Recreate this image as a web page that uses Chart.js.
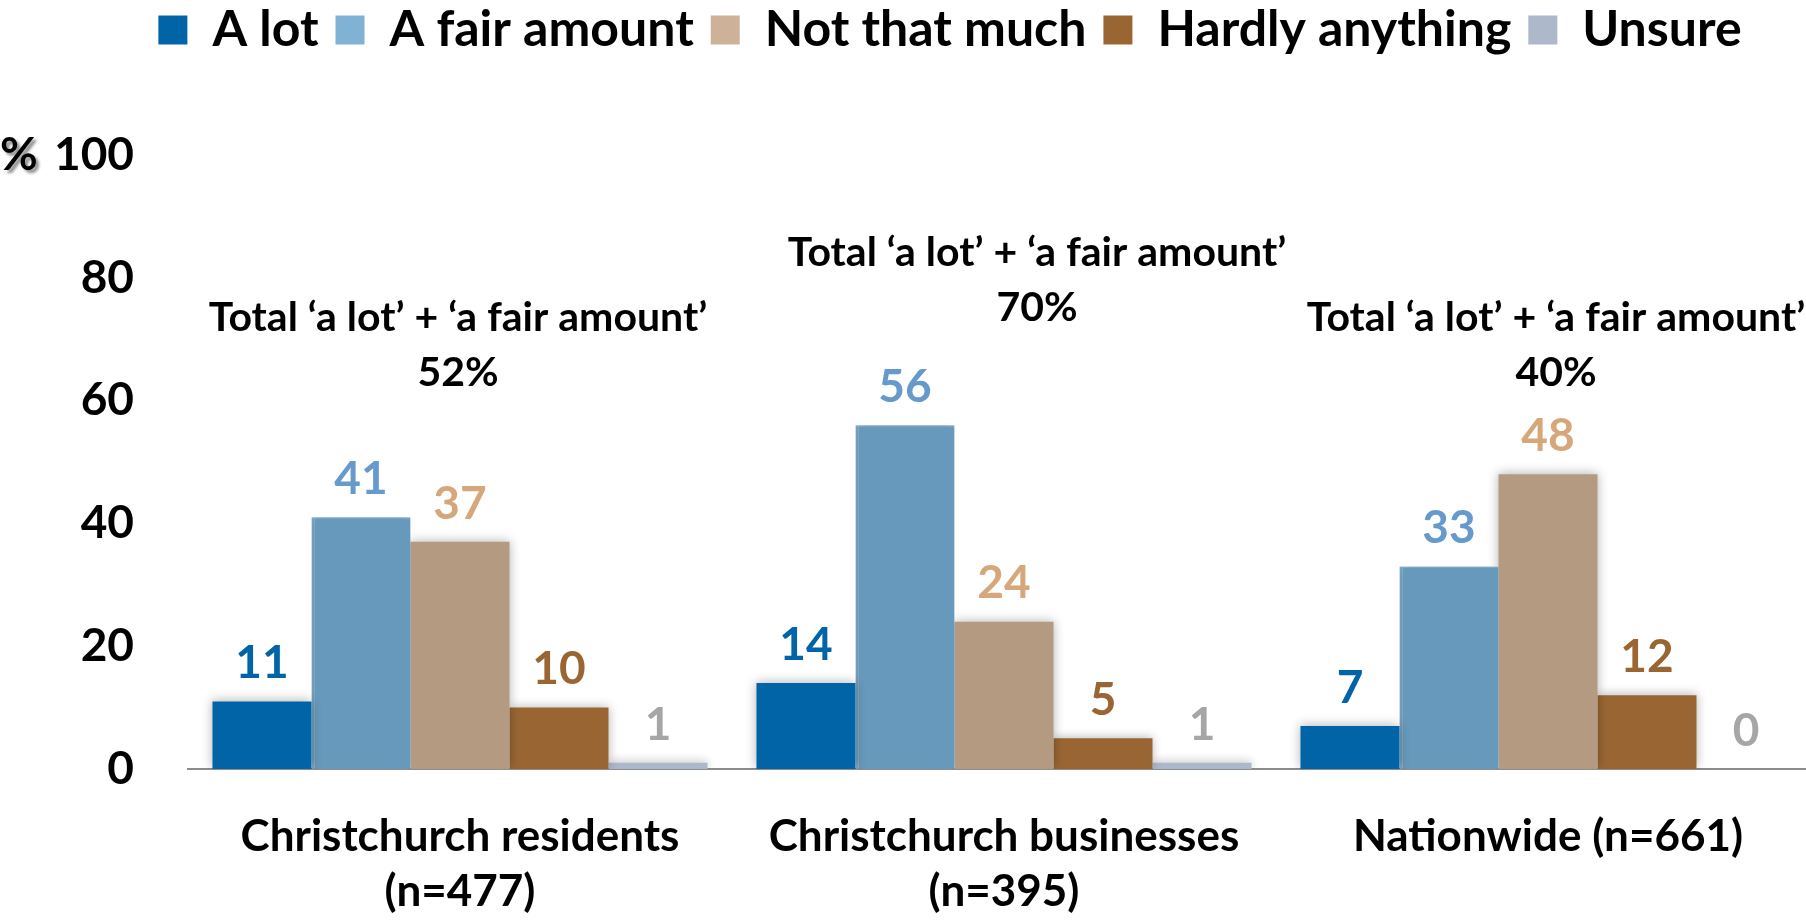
<!DOCTYPE html>
<html>
<head>
<meta charset="utf-8">
<script src="https://cdn.jsdelivr.net/npm/chart.js@4.4.1/dist/chart.umd.min.js"></script>
<style>
  html, body { margin: 0; padding: 0; background: #fff; }
  #wrap { width: 1806px; height: 921px; }
</style>
</head>
<body>
<div id="wrap"><canvas id="chart" width="1806" height="921"></canvas></div>
<script>
// data
const categories = [['Christchurch residents', '(n=477)'], ['Christchurch businesses', '(n=395)'], 'Nationwide (n=661)'];
const seriesNames = ['A lot', 'A fair amount', 'Not that much', 'Hardly anything', 'Unsure'];
const aLot = [11, 14, 7];
const fairAmount = [41, 56, 33];
const notThatMuch = [37, 24, 48];
const hardlyAnything = [10, 5, 12];
const unsure = [1, 1, 0];
const yTicks = [0, 20, 40, 60, 80, 100];
const totalText = 'Total \u2018a lot\u2019 + \u2018a fair amount\u2019';

// styles
const barColors = ['#0064A6', '#6699BB', '#B39A80', '#996633', '#ADB9CA'];
const legendColors = ['#0064A6', '#7FB2D4', '#CDB299', '#996633', '#ADB9CA'];
const valueColors = ['#0064A6', '#6699CC', '#D6A77A', '#996633', '#A6A6A6'];
const barEdges = [0, { left: 3, top: 1 }, 0, 0, 0];
const family = 'Lato, "Noto Sans", sans-serif';

Chart.defaults.font.family = family;
Chart.defaults.font.weight = 'bold';
Chart.defaults.color = '#000';

const series = [aLot, fairAmount, notThatMuch, hardlyAnything, unsure];

// room under the legend, nudge it right, and let the x axis run past the right edge
const layoutTweaks = {
  id: 'layoutTweaks',
  beforeLayout(chart, args, opts) {
    const legend = chart.legend;
    if (legend && !legend._spaced) {
      const fit = legend.fit;
      legend.fit = function () { fit.call(this); this.height += opts.legendGap; };
      legend._spaced = true;
    }
  },
  afterLayout(chart, args, opts) {
    chart.legend.left += opts.legendShift;
    chart.legend.right += opts.legendShift;
    const x = chart.scales.x;
    x.right += opts.xOverflow;
    x.width += opts.xOverflow;
    x.configure();
  }
};

const barShadow = {
  id: 'barShadow',
  beforeDatasetDraw(chart) {
    const ctx = chart.ctx;
    ctx.save();
    ctx.shadowColor = 'rgba(0,0,0,0.28)';
    ctx.shadowBlur = 10;
    ctx.shadowOffsetY = -1;
  },
  afterDatasetDraw(chart) {
    chart.ctx.restore();
  }
};

const valueLabels = {
  id: 'valueLabels',
  afterDatasetsDraw(chart, args, opts) {
    const ctx = chart.ctx;
    ctx.save();
    ctx.font = `bold ${opts.size}px ${family}`;
    ctx.textAlign = 'center';
    ctx.textBaseline = 'middle';
    chart.data.datasets.forEach((ds, di) => {
      chart.getDatasetMeta(di).data.forEach((bar, i) => {
        ctx.fillStyle = valueColors[di];
        ctx.fillText(ds.data[i], bar.x, bar.y - opts.offset);
      });
    });
    ctx.restore();
  }
};

const totalsNote = {
  id: 'totalsNote',
  afterDraw(chart, args, opts) {
    const {ctx, scales: {x, y}} = chart;
    ctx.save();
    ctx.font = `bold ${opts.size}px ${family}`;
    ctx.textAlign = 'center';
    ctx.textBaseline = 'middle';
    ctx.fillStyle = '#000';
    categories.forEach((c, i) => {
      const cx = x.getPixelForValue(i) + opts.dx[i];
      const cy = y.getPixelForValue(opts.at[i]);
      ctx.fillText(totalText, cx, cy);
      ctx.fillText((aLot[i] + fairAmount[i]) + '%', cx, cy + opts.lineGap);
    });
    // the % unit next to the top tick
    ctx.font = `bold ${opts.unitSize}px ${family}`;
    ctx.textAlign = 'left';
    ctx.shadowColor = 'rgba(0,0,0,0.45)';
    ctx.shadowBlur = 3;
    ctx.shadowOffsetX = 3;
    ctx.shadowOffsetY = 3;
    ctx.fillText('%', 0, y.getPixelForValue(yTicks[yTicks.length - 1]));
    ctx.restore();
  }
};

new Chart(document.getElementById('chart'), {
  type: 'bar',
  data: {
    labels: categories,
    datasets: seriesNames.map((name, i) => ({
      label: name,
      data: series[i],
      backgroundColor: barColors[i],
      borderColor: legendColors[i],
      borderWidth: barEdges[i],
      borderSkipped: 'start',
      categoryPercentage: 0.91,
      barPercentage: 1.0
    }))
  },
  options: {
    responsive: false,
    devicePixelRatio: 1,
    animation: false,
    layout: { padding: { top: -12, left: 0, right: 0, bottom: 0 } },
    scales: {
      x: {
        grid: { display: false, drawTicks: false },
        border: { display: true, color: '#8C8C8C', width: 2 },
        ticks: { font: { size: 44, weight: 'bold', lineHeight: 1.25 }, padding: 40, maxRotation: 0, color: '#000' },
        afterFit(s) { s.height = 152; }
      },
      y: {
        min: 0,
        max: 100,
        grid: { display: false, drawTicks: false },
        border: { display: false },
        ticks: { font: { size: 46, weight: 'bold' }, padding: 54, color: '#000' },
        afterBuildTicks(s) { s.ticks = yTicks.map(v => ({ value: v })); },
        afterFit(s) { s.width = 188; }
      }
    },
    plugins: {
      legend: {
        position: 'top',
        labels: {
          boxWidth: 29,
          boxHeight: 29,
          padding: 17,
          color: '#000',
          font: { size: 50, weight: 'bold' },
          generateLabels(chart) {
            return Chart.defaults.plugins.legend.labels.generateLabels(chart).map((item, i) => {
              item.fillStyle = legendColors[i];
              item.strokeStyle = legendColors[i];
              item.lineWidth = 0;
              return item;
            });
          }
        }
      },
      tooltip: { enabled: false },
      layoutTweaks: { legendGap: 90, legendShift: 47, xOverflow: 14 },
      valueLabels: { size: 46, offset: 38 },
      totalsNote: { size: 41, unitSize: 46, dx: [-2, 33, 8], at: [73.5, 84, 73.5], lineGap: 55 }
    }
  },
  plugins: [layoutTweaks, barShadow, valueLabels, totalsNote]
});
</script>
</body>
</html>
